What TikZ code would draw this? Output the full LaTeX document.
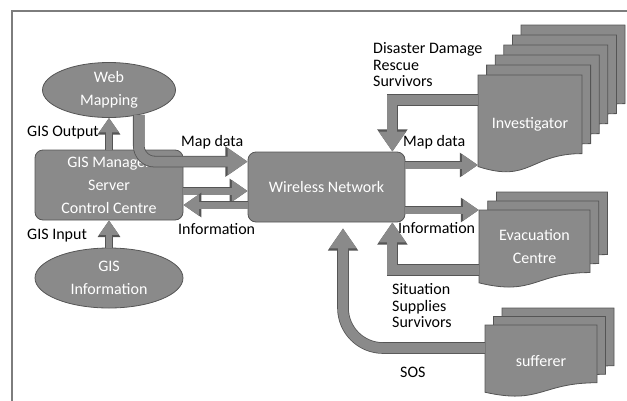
\documentclass[tikz,border=0pt]{standalone}
\usepackage{fontspec}
\setmainfont{Carlito}
\usetikzlibrary{arrows.meta,shapes.geometric}
\definecolor{boxgray}{RGB}{138,138,138}
\definecolor{edgegray}{RGB}{85,85,85}
\definecolor{framegray}{RGB}{125,125,125}
\newcommand{\boxfont}{\fontsize{16}{23}\selectfont}
\newcommand{\lblfont}{\fontsize{16}{16.5}\selectfont}
% one sheet with a wavy lower edge: left, top, width, height
\newcommand{\docsheet}[4]{%
  \draw[sheet] (#1,#2) -- ({#1+#3},#2) -- ({#1+#3},{#2+0.802*#4})
    .. controls ({#1+0.5*#3},{#2+0.802*#4}) and ({#1+0.5*#3},{#2+1.108*#4}) .. (#1,{#2+0.934*#4}) -- cycle;}
% a pile of sheets, back to front: left, top, width, height, sheets behind, dx, dy
\newcommand{\docstack}[7]{%
  \foreach \k in {#5,...,0}{%
    \pgfmathsetmacro{\sx}{#1+\k*#6}\pgfmathsetmacro{\sy}{#2-\k*#7}%
    \docsheet{\sx}{\sy}{#3}{#4}}}
\begin{document}
\begin{tikzpicture}[x=1pt,y=-1pt,
  box/.style={rectangle,rounded corners=8pt,fill=boxgray,draw=edgegray,line width=0.8pt,text=white,align=center,font=\boxfont,inner sep=0},
  oval/.style={ellipse,fill=boxgray,draw=edgegray,line width=0.8pt,text=white,align=center,font=\boxfont,inner sep=0},
  sheet/.style={fill=boxgray,draw=edgegray,line width=0.8pt},
  doctext/.style={rectangle,inner sep=0,text=white,align=center,font=\boxfont},
  lbl/.style={inner sep=0,align=left,font=\lblfont,anchor=west},
  fattip/.style={-{Triangle[length=6pt 1.4,width=8pt 1.8]}},
  flow/.style={draw=boxgray,line width=#1,fattip,preaction={draw=edgegray,line width=#1+1.6pt,fattip}},
  flow/.default=7pt]
\useasboundingbox (0,0) rectangle (627,400);
\draw[framegray,line width=2pt] (12,402) -- (12,10.5) -- (629,10.5);

% GIS side
\node[oval,minimum width=133pt,minimum height=55pt] (web) at (109,90) {Web\\Mapping};
\node[box,minimum width=148pt,minimum height=70pt] (mgr) at (109,185) {GIS Manager\\Server\\Control Centre};
\node[oval,minimum width=148pt,minimum height=60pt] (ginfo) at (109,278) {GIS\\Information};
\node[box,minimum width=157pt,minimum height=70pt] (wn) at (326.5,187) {Wireless Network};

% piles of sheets
\docstack{478}{75}{104}{98}{5}{8.6}{10}
\node[doctext,minimum width=104pt,minimum height=98pt] (inv) at (530,124) {Investigator};
\docstack{479}{210}{111}{78}{2}{8.7}{9}
\node[doctext,minimum width=111pt,minimum height=78pt] (evac) at (534.5,247) {Evacuation\\Centre};
\docstack{485}{325}{112}{72}{2}{8.5}{8.5}
\node[doctext,minimum width=112pt,minimum height=72pt] (suf) at (541,361) {sufferer};

% arrows
\draw[flow=6pt] (mgr.north) -- (web.south);
\draw[flow=6pt] (ginfo.north) -- (mgr.south);
\draw[flow=10pt,rounded corners=16pt] (web.-40) |- ([yshift=-10pt]wn.north west);
\draw[flow] ([yshift=-6pt]mgr.east) -- ([yshift=-6pt]mgr.east -| wn.west);
\draw[flow] ([yshift=-20pt]mgr.east -| wn.west) -- ([yshift=-20pt]mgr.east);
\draw[flow=10pt] ([yshift=24pt]inv.west) -| ([xshift=-13pt]wn.north east);
\draw[flow] ([yshift=22pt]wn.east) -- ([yshift=22pt]wn.east -| inv.west);
\draw[flow] ([yshift=-23pt]wn.east) -- ([yshift=-23pt]wn.east -| evac.west);
\draw[flow=10pt] ([yshift=-23pt]evac.west) -| ([xshift=-13pt]wn.south east);
\draw[flow=10pt,rounded corners=40pt] ([yshift=13pt]suf.west) -| ([xshift=16.5pt,yshift=-6pt]wn.south);

% labels
\node[lbl] (lout) at (27,133) {GIS Output};
\node[lbl] (lin) at (27,236) {GIS Input};
\node[lbl] (lmap) at (181,142) {Map data};
\node[lbl] (linfo) at (178,229) {Information};
\node[lbl] (ldis) at (373,65) {Disaster Damage\\Rescue\\Survivors};
\node[lbl] (lmapr) at (403,142) {Map data};
\node[lbl] (linfor) at (398,228) {Information};
\node[lbl] (lsit) at (392,306) {Situation\\Supplies\\Survivors};
\node[lbl] (lsos) at (400,372) {SOS};
\end{tikzpicture}
\end{document}
